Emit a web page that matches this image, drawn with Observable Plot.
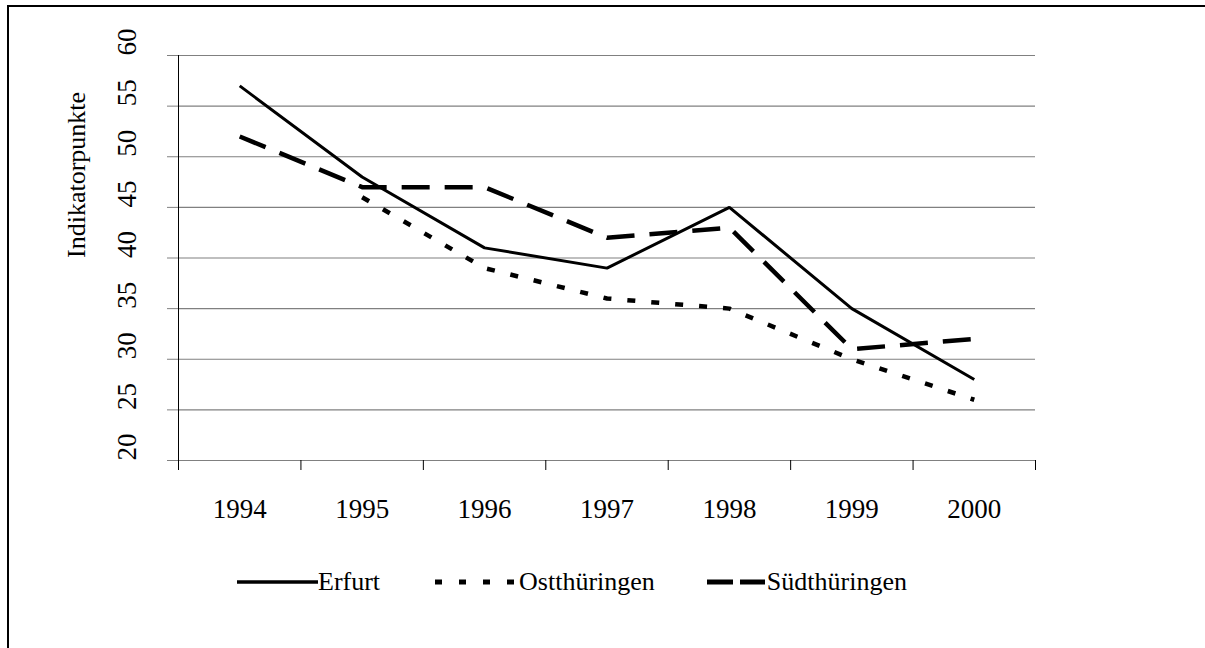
<!DOCTYPE html>
<html><head><meta charset="utf-8">
<script src="https://cdn.jsdelivr.net/npm/d3@7"></script>
<script src="https://cdn.jsdelivr.net/npm/@observablehq/plot@0.6"></script>
<style>
html,body{margin:0;padding:0;background:#fff;}
body{width:1205px;height:648px;overflow:hidden;position:relative;font-family:'Liberation Serif','Times New Roman',serif;}
#frame{position:absolute;left:7px;top:5px;width:1400px;height:800px;border-top:2px solid #000;border-left:2px solid #000;pointer-events:none;}
#chart{position:absolute;left:0;top:0;}
#legend{position:absolute;top:566px;left:237px;height:32px;display:flex;align-items:center;font-size:26px;color:#000;white-space:nowrap;}
#legend .item{display:flex;align-items:center;}
#legend svg{display:block;}
</style>
</head><body>
<div id="chart"></div>
<div id="legend"></div>
<div id="frame"></div>
<script>
const years = [1994, 1995, 1996, 1997, 1998, 1999, 2000];
const erfurt = [57, 48, 41, 39, 45, 35, 28];
const ostthueringen = [null, 46, 39, 36, 35, 30, 26];
const suedthueringen = [52, 47, 47, 42, 43, 31, 32];
const seriesNames = ["Erfurt", "Ostthüringen", "Südthüringen"];
const yTicks = [20, 25, 30, 35, 40, 45, 50, 55, 60];
const yTitle = "Indikatorpunkte";

const styles = {
  "Erfurt": {strokeWidth: 3, dash: null},
  "Ostthüringen": {strokeWidth: 4.5, dash: "8,16"},
  "Südthüringen": {strokeWidth: 4.5, dash: "28,15"}
};

function rows(name, vals) {
  return years.map((yr, i) => ({year: yr, value: vals[i], series: name})).filter(d => d.value != null);
}
const dataSets = [rows(seriesNames[0], erfurt), rows(seriesNames[1], ostthueringen), rows(seriesNames[2], suedthueringen)];
const bounds = years.map(y => y - 0.5).concat([years[years.length - 1] + 0.5]);

const font = "'Liberation Serif', 'Times New Roman', serif";

const lineMarks = dataSets.map((ds, i) => {
  const st = styles[seriesNames[i]];
  const o = {x: "year", y: "value", stroke: "#000", strokeWidth: st.strokeWidth, strokeLinecap: "butt", strokeLinejoin: "miter", curve: "linear"};
  if (st.dash) o.strokeDasharray = st.dash;
  return Plot.line(ds, o);
});

const chart = Plot.plot({
  width: 1205,
  height: 540,
  marginLeft: 178,
  marginRight: 170,
  marginTop: 55,
  marginBottom: 80,
  style: {fontFamily: font, background: "transparent", color: "#000"},
  x: {type: "linear", domain: [bounds[0], bounds[bounds.length - 1]]},
  y: {domain: [20, 60]},
  marks: [
    Plot.ruleY(yTicks, {stroke: "#808080", strokeWidth: 1.2, strokeOpacity: 1}),
    Plot.axisY({ticks: yTicks, tickSize: 11, tickFormat: () => "", stroke: "#808080", strokeOpacity: 1, label: null}),
    Plot.frame({anchor: "left", stroke: "#000", strokeWidth: 1}),
    Plot.axisX({ticks: bounds, tickSize: 10, tickFormat: () => "", stroke: "#000", strokeOpacity: 1, label: null}),
    Plot.axisX({ticks: years, tickSize: 0, tickPadding: 38, tickFormat: d => String(d), fontSize: 27, fontFamily: font, label: null, fill: "#000"}),
    Plot.text(yTicks, {y: d => d, text: d => String(d), frameAnchor: "left", dx: -51, rotate: -90, fontSize: 27, fontFamily: font, fill: "#000"}),
    Plot.text([yTitle], {text: d => d, frameAnchor: "left", dx: -102, rotate: -90, fontSize: 26, fontFamily: font, fill: "#000"}),
    ...lineMarks
  ]
});
document.getElementById("chart").appendChild(chart);

// legend
const legend = document.getElementById("legend");
const swatchW = {"Erfurt": 81, "Ostthüringen": 82, "Südthüringen": 58};
const gaps = [0, 55, 52];
seriesNames.forEach((name, i) => {
  const st = styles[name];
  const item = document.createElement("div");
  item.className = "item";
  item.style.marginLeft = gaps[i] + "px";
  const w = swatchW[name];
  const ns = "http://www.w3.org/2000/svg";
  const svg = document.createElementNS(ns, "svg");
  svg.setAttribute("width", w);
  svg.setAttribute("height", 10);
  const ln = document.createElementNS(ns, "line");
  ln.setAttribute("x1", 0); ln.setAttribute("x2", w);
  ln.setAttribute("y1", 5); ln.setAttribute("y2", 5);
  ln.setAttribute("stroke", "#000");
  ln.setAttribute("stroke-width", st.strokeWidth + 0.5);
  if (st.dash) ln.setAttribute("stroke-dasharray", name === "Südthüringen" ? "26,7" : "7,17");
  svg.appendChild(ln);
  const span = document.createElement("span");
  span.textContent = name;
  span.style.marginLeft = (name === "Erfurt" ? 0 : 2) + "px";
  item.appendChild(svg);
  item.appendChild(span);
  legend.appendChild(item);
});
</script>
</body></html>
